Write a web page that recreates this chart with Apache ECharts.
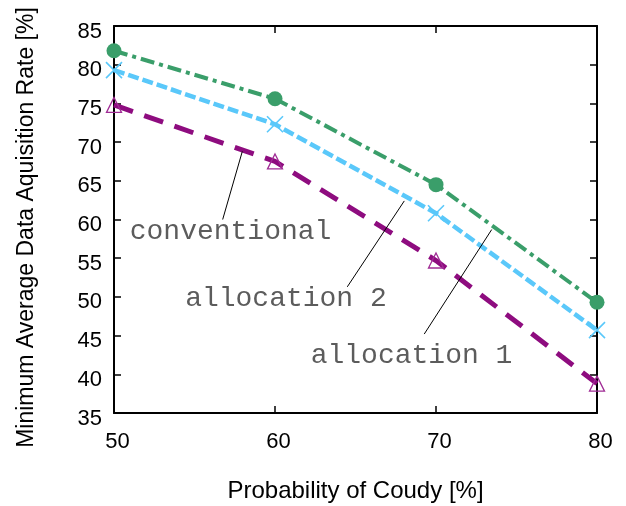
<!DOCTYPE html>
<html>
<head>
<meta charset="utf-8">
<script src="https://cdn.jsdelivr.net/npm/echarts@6/dist/echarts.min.js"></script>
<style>
  html, body { margin: 0; padding: 0; background: #fff; }
  #chart { width: 626px; height: 506px; }
</style>
</head>
<body>
<div id="chart"></div>
<script>
'use strict';

var probability = [50, 60, 70, 80];
var allocation1 = [81.8, 75.6, 64.5, 49.3];
var allocation2 = [79.3, 72.3, 60.8, 45.7];
var conventional = [74.8, 67.5, 54.7, 38.8];

// annotation text, where it sits and where its pointer ends (data units)
var noteNames = ['conventional', 'allocation 2', 'allocation 1'];
var noteAt = [[57.24, 58.5], [60.68, 49.8], [68.48, 42.4]];
var pointerFrom = [[56.75, 60.0], [64.49, 51.3], [69.27, 45.2]];
var pointerTo = [[57.97, 68.8], [68.03, 62.4], [73.46, 58.7]];

function pairs(ys) {
  return probability.map(function (x, i) { return [x, ys[i]]; });
}

var sansFont = '"Liberation Sans", Arial, sans-serif';
var monoFont = '"Liberation Mono", "Courier New", monospace';

var axisLine = { lineStyle: { color: '#000', width: 2 } };
var axisTick = { inside: true, length: 7, lineStyle: { color: '#000', width: 1.5 } };

var myChart = echarts.init(document.getElementById('chart'));

myChart.setOption({
  animation: false,
  backgroundColor: '#fff',
  grid: { left: 114, right: 29, top: 26, bottom: 93, outerBoundsMode: 'none' },
  xAxis: [{
    type: 'value', min: 50, max: 80, interval: 10,
    name: 'Probability of Coudy [%]', nameLocation: 'middle', nameGap: 66,
    nameTextStyle: { fontFamily: sansFont, fontSize: 24, color: '#000' },
    axisLine: axisLine, axisTick: axisTick, splitLine: { show: false },
    axisLabel: { fontFamily: sansFont, fontSize: 22, color: '#000', margin: 18, padding: [0, 0, 0, 7] }
  }, {
    type: 'value', min: 50, max: 80, interval: 10, position: 'top',
    axisLine: axisLine, axisTick: axisTick, splitLine: { show: false },
    axisLabel: { show: false }
  }],
  yAxis: [{
    type: 'value', min: 35, max: 85, interval: 5,
    name: 'Minimum Average Data Aquisition Rate [%]', nameLocation: 'middle', nameGap: 76,
    nameTextStyle: { fontFamily: sansFont, fontSize: 23, color: '#000', padding: [0, 16, 0, 0] },
    axisLine: axisLine, axisTick: axisTick, splitLine: { show: false },
    axisLabel: {
      fontFamily: sansFont, fontSize: 22, color: '#000', margin: 12,
      verticalAlign: 'top', lineHeight: 11
    }
  }, {
    type: 'value', min: 35, max: 85, interval: 5, position: 'right',
    axisLine: axisLine, axisTick: axisTick, splitLine: { show: false },
    axisLabel: { show: false }
  }],
  series: [{
    name: 'conventional', type: 'line', data: pairs(conventional),
    symbol: 'triangle', symbolSize: 15,
    lineStyle: { color: '#8e0c7f', width: 5, type: [20, 12] },
    itemStyle: { color: 'rgba(0,0,0,0)', borderColor: '#a02c95', borderWidth: 1.3 }
  }, {
    name: 'allocation 2', type: 'line', data: pairs(allocation2),
    symbol: 'path://M0,0L10,10M10,0L0,10', symbolSize: 16,
    lineStyle: { color: '#5ac8fa', width: 4.5, type: [11, 4] },
    itemStyle: { color: 'rgba(0,0,0,0)', borderColor: '#5ac8fa', borderWidth: 1.6 }
  }, {
    name: 'allocation 1', type: 'line', data: pairs(allocation1),
    symbol: 'circle', symbolSize: 15,
    lineStyle: { color: '#3a9e6a', width: 4, type: [14, 5, 4, 5] },
    itemStyle: { color: '#3a9e6a' }
  }, {
    // labels with thin pointers
    name: 'notes', type: 'scatter', symbolSize: 0, silent: true,
    data: noteNames.map(function (n, i) { return { value: noteAt[i], name: n }; }),
    label: {
      show: true, position: 'inside', formatter: '{b}',
      fontFamily: monoFont, fontSize: 28, color: '#333'
    },
    markLine: {
      silent: true, symbol: 'none',
      label: { show: false },
      lineStyle: { color: '#000', width: 1, type: 'solid' },
      data: pointerFrom.map(function (p, i) {
        return [{ coord: p }, { coord: pointerTo[i] }];
      })
    }
  }]
});
</script>
</body>
</html>
